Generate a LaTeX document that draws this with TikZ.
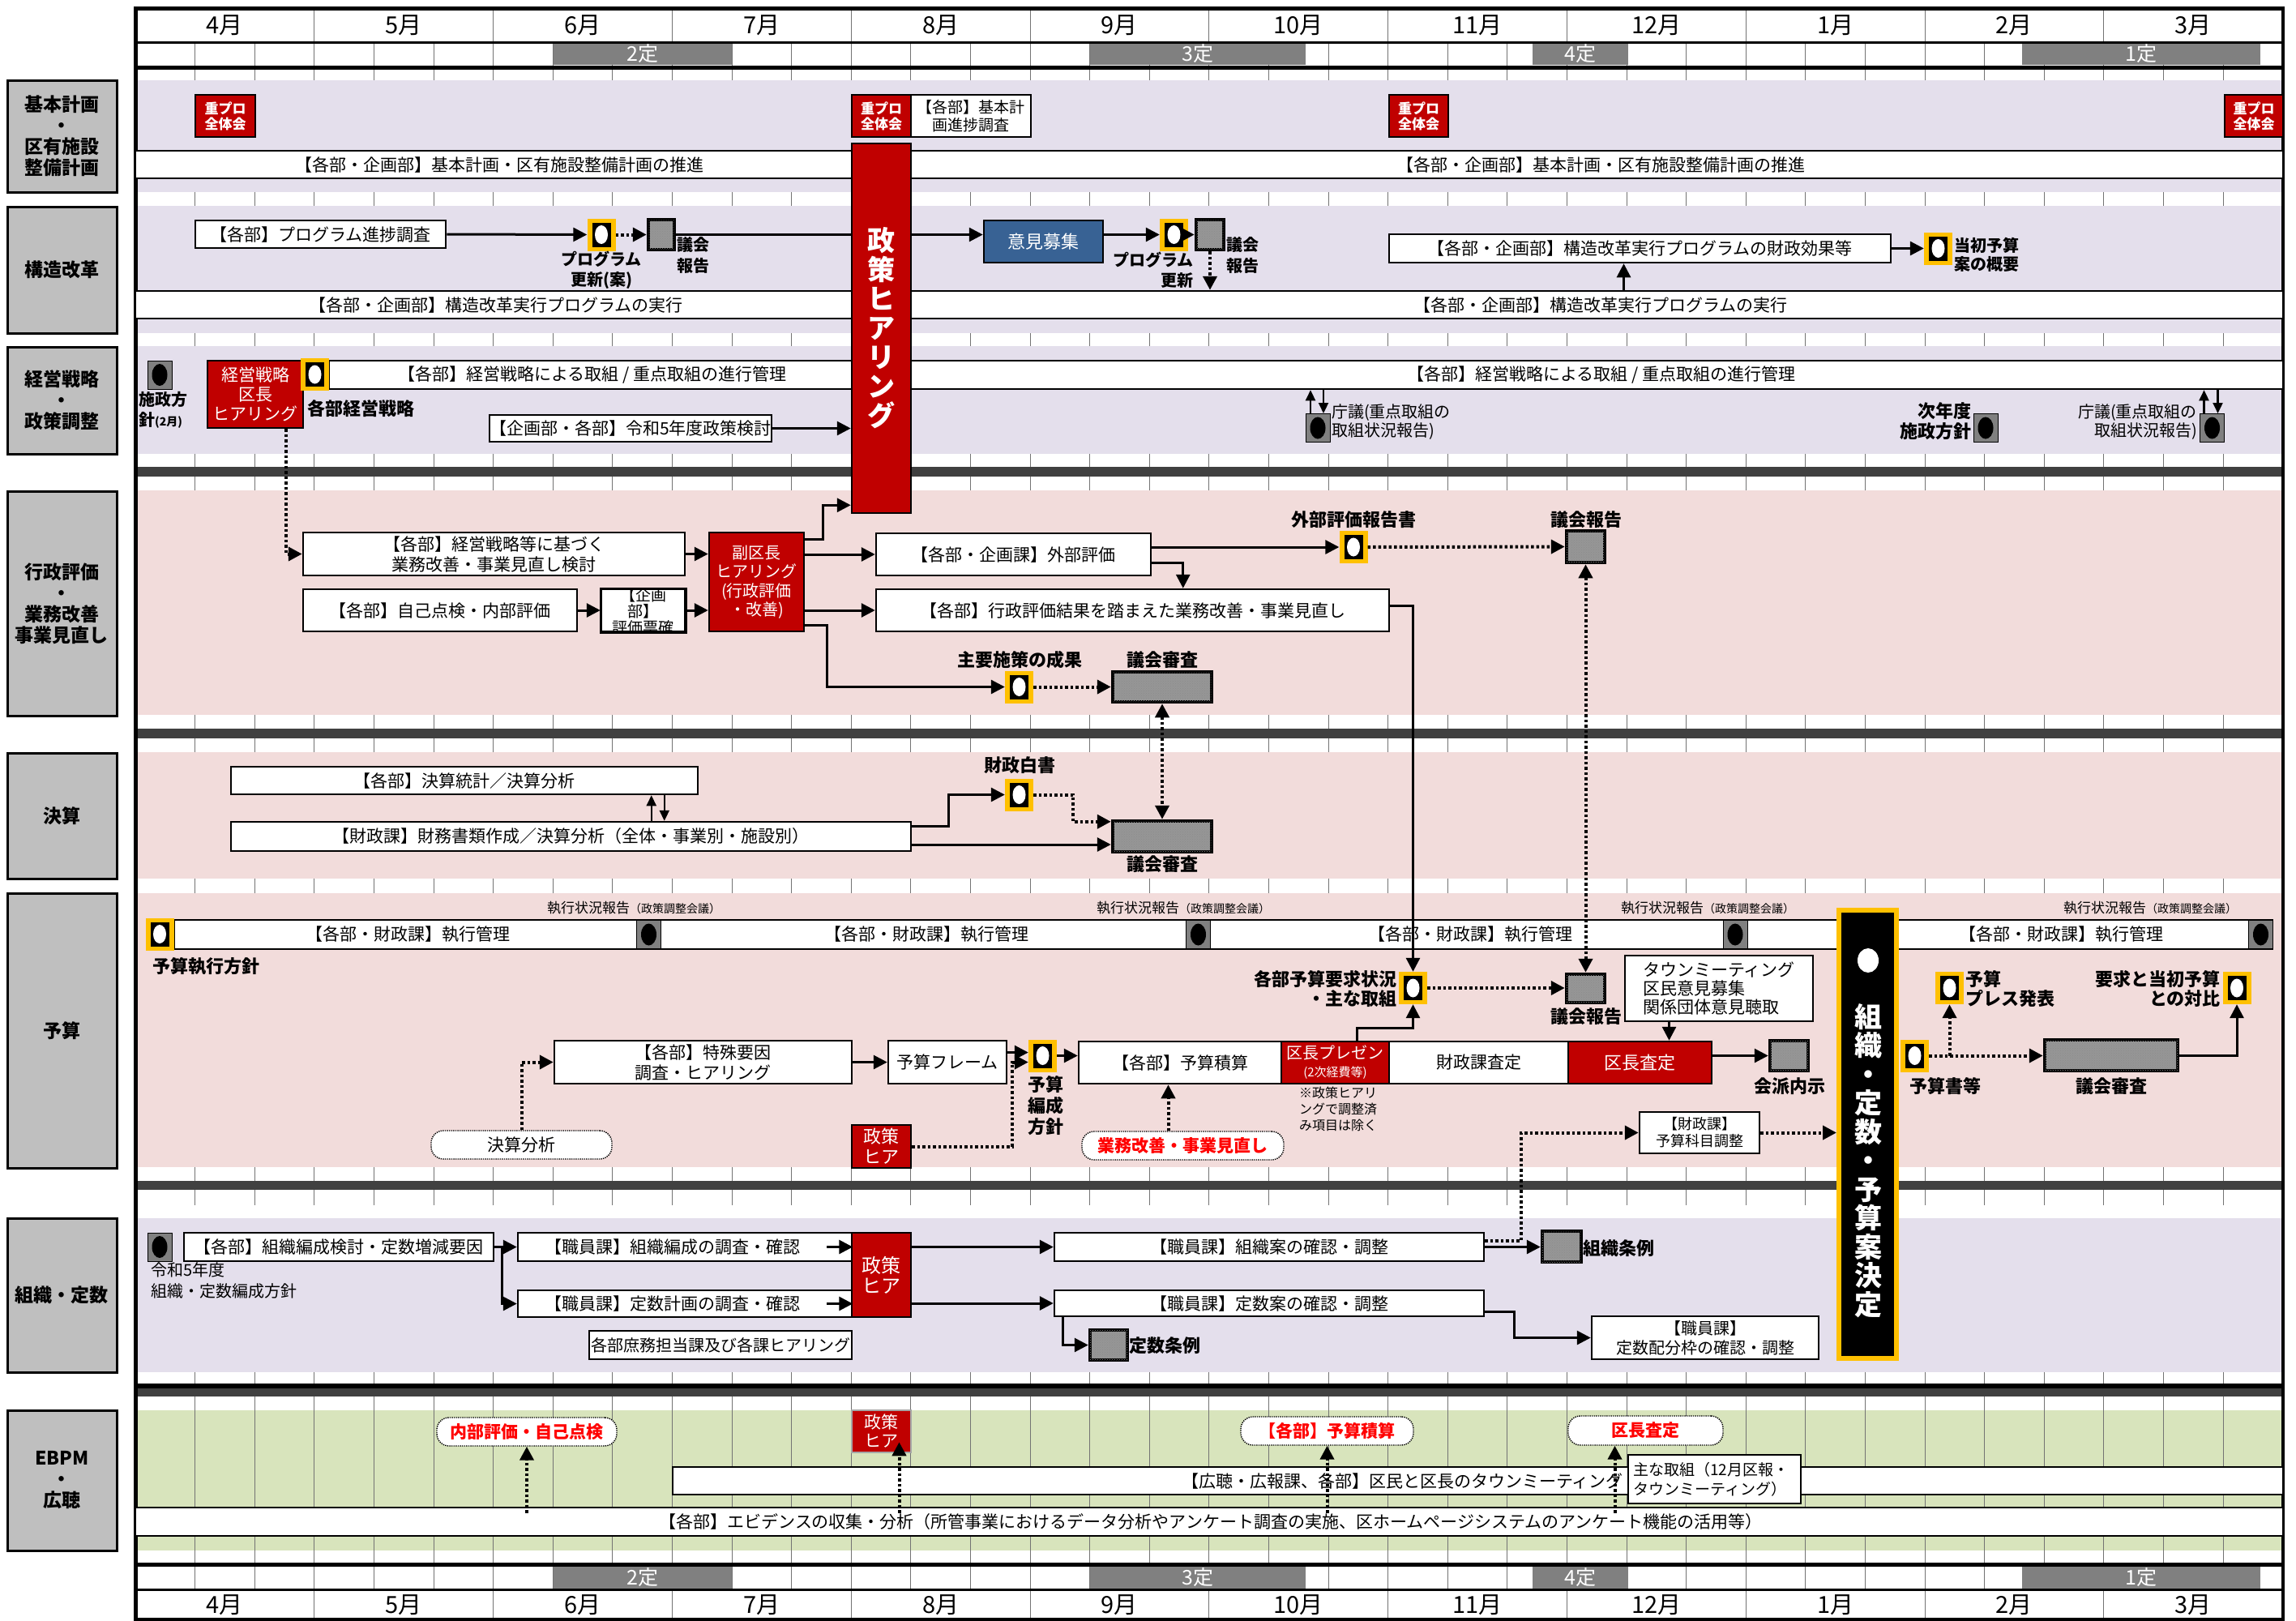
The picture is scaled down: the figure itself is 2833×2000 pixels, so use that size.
\documentclass[tikz,border=0pt]{standalone}
\usepackage{fontspec}
\setmainfont{Noto Sans CJK JP}
\usetikzlibrary{arrows.meta,shapes.geometric,patterns}
\definecolor{lav}{RGB}{228,223,236}
\definecolor{pnk}{RGB}{242,220,219}
\definecolor{grn}{RGB}{216,228,188}
\definecolor{rd}{RGB}{192,0,0}
\definecolor{blu}{RGB}{56,98,148}
\definecolor{yel}{RGB}{255,192,0}
\definecolor{lblc}{RGB}{191,191,191}
\definecolor{dk}{RGB}{64,64,64}
\definecolor{tei}{RGB}{128,128,128}
\definecolor{hatch}{RGB}{150,150,150}
\newcommand\fz[2]{\fontsize{#1pt}{#2pt}\selectfont}
\newcommand\mkbox[7][]{%
  \pgfmathsetmacro\bw{#5-#3}\pgfmathsetmacro\bh{#6-#4}%
  \pgfmathsetmacro\bcx{(#5+#3)/2}\pgfmathsetmacro\bcy{(#6+#4)/2}%
  \node[bx,minimum width=\bw pt,minimum height=\bh pt,#1] (#2) at (\bcx,\bcy) {#7};}
\newcommand\msY[3]{%
  \node[fill=yel,minimum width=35pt,minimum height=40pt,inner sep=0pt] (#1) at (#2,#3) {};
  \node[fill=black,minimum width=23pt,minimum height=30pt,inner sep=0pt] (#1-i) at (#2,#3) {};
  \node[fill=white,ellipse,minimum width=16pt,minimum height=23pt,inner sep=0pt] (#1-d) at (#2,#3) {};}
\newcommand\msG[3]{%
  \node[fill=tei,draw=black,line width=1pt,minimum width=30pt,minimum height=35pt,inner sep=0pt] (#1) at (#2,#3) {};
  \node[fill=black,ellipse,minimum width=19pt,minimum height=27pt,inner sep=0pt] (#1-d) at (#2,#3) {};}
\tikzset{
  bx/.style={draw=black,line width=2.5pt,fill=white,inner sep=0pt,align=center,font=\fz{21}{25}},
  rbx/.style={fill=rd,text=white},
  lblbox/.style={fill=lblc,line width=3pt,font=\bfseries\fz{23}{26}},
  hb/.style={fill=hatch,line width=4.5pt,postaction={pattern=crosshatch dots,pattern color=black!45}},
  rnd/.style={rounded corners=15pt,line width=1.4pt,dash pattern=on 1.4pt off 1.2pt,text=red,font=\bfseries\fz{21}{25}},
  teib/.style={fill=tei,draw=none,text=white,font=\fz{25}{25}},
  tk/.style={draw=black!55,line width=0.9pt},
  mon/.style={inner sep=0pt,font=\fz{29}{29}},
  btx/.style={inner sep=0pt,font=\fz{21}{25}},
  lb/.style={inner sep=0pt,font=\bfseries\fz{22}{25},align=center},
  lbs/.style={inner sep=0pt,font=\fz{20}{23}},
  sml/.style={inner sep=0pt,font=\fz{16}{18}},
  arr/.style={line width=3pt,-{Triangle[length=17pt,width=17pt]}},
  ln/.style={line width=3pt},
  dt/.style={line width=4pt,dash pattern=on 3.5pt off 3pt},
  darr/.style={dt,-{Triangle[length=17pt,width=17pt]}},
  ddarr/.style={dt,{Triangle[length=17pt,width=17pt]}-{Triangle[length=17pt,width=17pt]}},
  sarr/.style={line width=2.2pt,-{Triangle[length=13pt,width=12pt]}},
}
\begin{document}
\begin{tikzpicture}[x=1pt,y=-1pt]
\useasboundingbox (0,0) rectangle (2833,2000);
\fill[white] (0,0) rectangle (2833,2000);
% ---------- backgrounds
\fill[grn] (169,1740) rectangle (2815,1913);
\foreach \k in {1,...,35}{\draw[tk] ({167+73.6*\k},52) -- ({167+73.6*\k},1960);}
\foreach \k in {1,...,11}{\draw[tk] ({167+220.8*\k},10) -- ({167+220.8*\k},52);
  \draw[tk] ({167+220.8*\k},1960) -- ({167+220.8*\k},1998);}
\fill[lav] (169,99) rectangle (2815,237);
\fill[lav] (169,254) rectangle (2815,411);
\fill[lav] (169,427) rectangle (2815,560);
\fill[pnk] (169,605) rectangle (2815,882);
\fill[pnk] (169,928) rectangle (2815,1084);
\fill[pnk] (169,1102) rectangle (2815,1440);
\fill[white] (169,1487) rectangle (2815,1503);
\fill[lav] (169,1503) rectangle (2815,1693);
\fill[dk] (167,576) rectangle (2817,588);
\fill[dk] (167,899) rectangle (2817,911);
\fill[dk] (167,1457) rectangle (2817,1468);
\fill[black] (167,1707) rectangle (2817,1713);
\fill[dk] (167,1713) rectangle (2817,1723);
% ---------- header / footer
\mkbox[teib]{t2}{683}{53}{903}{80}{2定}
\mkbox[teib]{t3}{1345}{53}{1611}{80}{3定}
\mkbox[teib]{t4}{1891}{53}{2009}{80}{4定}
\mkbox[teib]{t1}{2495}{53}{2789}{80}{1定}
\mkbox[teib]{t2b}{683}{1933}{903}{1960}{2定}
\mkbox[teib]{t3b}{1345}{1933}{1611}{1960}{3定}
\mkbox[teib]{t4b}{1891}{1933}{2009}{1960}{4定}
\mkbox[teib]{t1b}{2495}{1933}{2789}{1960}{1定}
\foreach \i/\t in {0/4月,1/5月,2/6月,3/7月,4/8月,5/9月,6/10月,7/11月,8/12月,9/1月,10/2月,11/3月}{
  \node[mon] (mt\i) at ({167+220.8*(\i+0.5)},31) {\t};
  \node[mon] (mb\i) at ({167+220.8*(\i+0.5)},1980) {\t};}
\draw[line width=5pt] (165,10) -- (2819,10);
\draw[line width=3pt] (167,52) -- (2817,52);
\draw[line width=5pt] (167,83) -- (2817,83);
\draw[line width=5pt] (167,1930) -- (2817,1930);
\draw[line width=3pt] (167,1961) -- (2817,1961);
\draw[line width=4pt] (165,1998) -- (2819,1998);
\draw[line width=5pt] (167,8) -- (167,2000);
\draw[line width=4pt] (2817,8) -- (2817,2000);
% ---------- row labels
\mkbox[lblbox]{L1}{9}{99}{144}{237}{基本計画\\・\\区有施設\\整備計画}
\mkbox[lblbox]{L2}{9}{255}{144}{411}{構造改革}
\mkbox[lblbox]{L3}{9}{428}{144}{560}{経営戦略\\・\\政策調整}
\mkbox[lblbox]{L4}{9}{606}{144}{883}{行政評価\\・\\業務改善\\事業見直し}
\mkbox[lblbox]{L5}{9}{929}{144}{1084}{決算}
\mkbox[lblbox]{L6}{9}{1102}{144}{1441}{予算}
\mkbox[lblbox]{L7}{9}{1503}{144}{1693}{組織・定数}
\mkbox[lblbox]{L8}{9}{1740}{144}{1913}{EBPM\\・\\広聴}
% ---------- long white bars
\mkbox{wb1}{167}{186}{2817}{220}{}
\mkbox{wb2}{167}{359}{2817}{393}{}
\mkbox{wb3}{406}{445}{2817}{480}{}
\mkbox{exb}{215}{1135}{2804}{1171}{}
\mkbox{tbar}{830}{1810}{2817}{1844}{}
\mkbox{evid}{167}{1860}{2817}{1895}{}
\node[btx] (wb1a) at (616,203) {【各部・企画部】基本計画・区有施設整備計画の推進};
\node[btx] (wb1b) at (1975,203) {【各部・企画部】基本計画・区有施設整備計画の推進};
\node[btx] (wb2a) at (612,376) {【各部・企画部】構造改革実行プログラムの実行};
\node[btx] (wb2b) at (1975,376) {【各部・企画部】構造改革実行プログラムの実行};
\node[btx] (wb3a) at (731,462.5) {【各部】経営戦略による取組\ /\ 重点取組の進行管理};
\node[btx] (wb3b) at (1976,462.5) {【各部】経営戦略による取組\ /\ 重点取組の進行管理};
\node[btx] (ex1) at (503,1153) {【各部・財政課】執行管理};
\node[btx] (ex2) at (1143,1153) {【各部・財政課】執行管理};
\node[btx] (ex3) at (1814,1153) {【各部・財政課】執行管理};
\node[btx] (ex4) at (2543,1153) {【各部・財政課】執行管理};
\node[btx,anchor=east] (tbart) at (2003,1827) {【広聴・広報課、各部】区民と区長のタウンミーティング};
\node[btx] (evidt) at (1494,1877.5) {【各部】エビデンスの収集・分析（所管事業におけるデータ分析やアンケート調査の実施、区ホームページシステムのアンケート機能の活用等）};
% ---------- 基本計画
\mkbox[rbx,font=\bfseries\fz{17}{19}]{jp1}{241}{117}{315}{169}{重プロ\\全体会}
\mkbox[rbx,font=\bfseries\fz{17}{19}]{jp2}{1051}{117}{1124}{169}{重プロ\\全体会}
\mkbox[font=\fz{19}{22}]{jpt}{1124}{117}{1272}{169}{【各部】基本計\\画進捗調査}
\mkbox[rbx,font=\bfseries\fz{17}{19}]{jp3}{1714}{117}{1787}{169}{重プロ\\全体会}
\mkbox[rbx,font=\bfseries\fz{17}{19}]{jp4}{2745}{117}{2817}{169}{重プロ\\全体会}
% ---------- 政策ヒアリング
\mkbox[rbx,font=\bfseries\fz{34}{36}]{seiH}{1051}{177}{1124}{633}{政\\策\\ヒ\\ア\\リ\\ン\\グ}
% ---------- 構造改革
\mkbox{prog}{241}{272}{550}{306}{【各部】プログラム進捗調査}
\msY{ms1}{742}{289.5}
\mkbox[hb]{g1}{800}{271}{832}{308}{}
\node[lb,font=\bfseries\fz{20}{25}] (ms1l) at (742,333) {プログラム\\更新(案)};
\node[lb,font=\bfseries\fz{20}{26},anchor=west,align=left] (g1l) at (835,315) {議会\\報告};
\mkbox[fill=blu,text=white,font=\fz{22}{25}]{iken}{1214}{272}{1361}{324}{意見募集}
\msY{ms2}{1448.5}{289.5}
\mkbox[hb]{g2}{1476}{271}{1510}{308}{}
\node[lb,font=\bfseries\fz{20}{25},anchor=east,align=right] (ms2l) at (1473,333) {プログラム\\更新};
\node[lb,font=\bfseries\fz{20}{26},anchor=west,align=left] (g2l) at (1513,315) {議会\\報告};
\mkbox{zai}{1714}{289}{2333}{324}{【各部・企画部】構造改革実行プログラムの財政効果等}
\msY{ms3}{2391.5}{306.5}
\node[lb,font=\bfseries\fz{20}{23},anchor=west,align=left] (ms3l) at (2411,314) {当初予算\\案の概要};
% ---------- 経営戦略
\msG{sh}{197}{462.5}
\node[lb,font=\bfseries\fz{20}{25},anchor=north west,align=left] (shl) at (171,483) {施政方\\針{\fz{14}{14}(2月)}};
\mkbox[rbx,font=\fz{21}{24}]{kh}{256}{445}{374}{528}{経営戦略\\区長\\ヒアリング}
\msY{ms4}{388.5}{462}
\node[lb,anchor=west] (khl) at (379,504) {各部経営戦略};
\mkbox{sei5}{609}{512}{947}{545}{【企画部・各部】令和5年度政策検討}
\msG{cg1}{1626}{528}
\node[lbs,anchor=west,align=left] (cg1l) at (1643,521) {庁議(重点取組の\\取組状況報告)};
\msG{jn}{2450}{528}
\node[lb,anchor=east,align=right] (jnl) at (2433,520) {次年度\\施政方針};
\msG{cg2}{2729.5}{528}
\node[lbs,anchor=east,align=right] (cg2l) at (2711,521) {庁議(重点取組の\\取組状況報告)};
% ---------- 行政評価
\mkbox{keiei}{374}{657}{845}{710}{【各部】経営戦略等に基づく\\業務改善・事業見直し検討}
\mkbox{jiko}{374}{727}{712}{779}{【各部】自己点検・内部評価}
\mkbox{kikaku}{742}{727}{845}{779}{}
\begin{scope}
\clip (742,727) rectangle (845,779);
\node[inner sep=0pt,align=center,font=\fz{19}{20}] (kikakut) at (793.5,754) {【企画\\部】\\評価票確};
\end{scope}
\draw[line width=2.5pt] (kikaku.north west) rectangle (kikaku.south east);
\mkbox[rbx,font=\fz{20}{23.5}]{fuku}{875}{657}{992}{779}{副区長\\ヒアリング\\(行政評価\\・改善)}
\mkbox{gaibu}{1081}{658}{1420}{710}{【各部・企画課】外部評価}
\mkbox{kekka}{1081}{727}{1714}{779}{【各部】行政評価結果を踏まえた業務改善・事業見直し}
\msY{ms5}{1670}{675}
\node[lb] (ms5l) at (1670,641) {外部評価報告書};
\mkbox[hb]{g3}{1933}{655}{1980}{694}{}
\node[lb] (g3l) at (1957,641) {議会報告};
\msY{ms6}{1257.5}{847.5}
\node[lb] (ms6l) at (1258,814) {主要施策の成果};
\mkbox[hb]{g4}{1373}{829}{1495}{866}{}
\node[lb] (g4l) at (1434,814) {議会審査};
% ---------- 決算
\mkbox{ks1}{285}{946}{861}{980}{【各部】決算統計／決算分析}
\mkbox{ks2}{285}{1014}{1124}{1050}{【財政課】財務書類作成／決算分析（全体・事業別・施設別）}
\msY{ms8}{1257.5}{980.5}
\node[lb] (ms8l) at (1258,944) {財政白書};
\mkbox[hb]{g6}{1373}{1013}{1495}{1051}{}
\node[lb] (g6l) at (1434,1066) {議会審査};
% ---------- 予算
\node[inner sep=0pt] (jk1) at (782,1120) {\fz{17}{18}執行状況報告\fz{14}{18}（政策調整会議）};
\node[inner sep=0pt] (jk2) at (1460,1120) {\fz{17}{18}執行状況報告\fz{14}{18}（政策調整会議）};
\node[inner sep=0pt] (jk3) at (2107,1120) {\fz{17}{18}執行状況報告\fz{14}{18}（政策調整会議）};
\node[inner sep=0pt] (jk4) at (2653,1120) {\fz{17}{18}執行状況報告\fz{14}{18}（政策調整会議）};
\msY{ms9}{197}{1152.5}
\msG{gm1}{800.5}{1153}
\msG{gm2}{1478.5}{1153}
\msG{gm3}{2141}{1153}
\msG{gm4}{2789.5}{1153}
\node[lb,anchor=west] (ms9l) at (188,1192) {予算執行方針};
\mkbox[rnd,text=black,font=\fz{21}{25}]{kb}{532}{1395}{755}{1430}{決算分析}
\mkbox{tok}{684}{1284}{1051}{1337}{【各部】特殊要因\\調査・ヒアリング}
\mkbox{fr}{1096}{1284}{1242}{1337}{予算フレーム}
\msY{ms10}{1286.5}{1302.5}
\mkbox[rbx,font=\fz{22}{25}]{sh2}{1051}{1388}{1124}{1441}{政策\\ヒア}
\node[lb,font=\bfseries\fz{22}{26}] (ms10l) at (1290,1364) {予算\\編成\\方針};
\mkbox{sek}{1331}{1285}{1581}{1337}{【各部】予算積算}
\mkbox[rbx,font=\fz{20}{22}]{pre}{1581}{1285}{1714}{1337}{区長プレゼン\\{\fz{15}{16}(2次経費等)}}
\mkbox{sat}{1714}{1285}{1935}{1337}{財政課査定}
\mkbox[rbx,font=\fz{22}{25}]{kc}{1935}{1285}{2112}{1337}{区長査定}
\node[sml,anchor=north west,align=left,font=\fz{16}{20}] (note) at (1603,1341) {※政策ヒアリ\\ングで調整済\\み項目は除く};
\mkbox[rnd]{gy}{1335}{1396}{1584}{1431}{業務改善・事業見直し}
\msY{ms7}{1743.5}{1219}
\node[lb,anchor=east,align=right,font=\bfseries\fz{22}{24}] (ms7l) at (1724,1220) {各部予算要求状況\\・主な取組};
\mkbox[hb]{g5}{1933}{1202}{1980}{1237}{}
\node[lb] (g5l) at (1957,1254) {議会報告};
\mkbox[font=\fz{21}{23}]{town}{2005}{1179}{2237}{1260}{}
\node[inner sep=0pt,anchor=west,align=left,font=\fz{21}{23}] (townt) at (2027,1220) {タウンミーティング\\区民意見募集\\関係団体意見聴取};
\mkbox[hb]{g7}{2184}{1284}{2231}{1321}{}
\node[lb] (g7l) at (2208,1340) {会派内示};
\mkbox[font=\fz{18}{21}]{kam}{2023}{1372}{2171}{1423}{【財政課】\\予算科目調整}
\mkbox[fill=black,draw=yel,line width=6pt]{ket}{2269}{1123}{2340}{1676}{}
\node[fill=white,ellipse,minimum width=26pt,minimum height=30pt,inner sep=0pt] (ket-d) at (2305,1185) {};
\node[inner sep=0pt,align=center,text=white,font=\bfseries\fz{34}{35.5}] (ket-t) at (2305,1432) {組\\織\\・\\定\\数\\・\\予\\算\\案\\決\\定};
\msY{ms11}{2362.5}{1302.5}
\node[lb] (ms11l) at (2400,1340) {予算書等};
\msY{ms12}{2405.5}{1219}
\node[lb,anchor=west,align=left,font=\bfseries\fz{22}{24}] (ms12l) at (2425,1220) {予算\\プレス発表};
\mkbox[hb]{g8}{2523}{1283}{2687}{1321}{}
\node[lb] (g8l) at (2605,1340) {議会審査};
\msY{ms13}{2760}{1219}
\node[lb,anchor=east,align=right,font=\bfseries\fz{22}{24}] (ms13l) at (2740,1220) {要求と当初予算\\との対比};
% ---------- 組織・定数
\msG{gm5}{197}{1538.5}
\node[lbs,anchor=north west,align=left,font=\fz{20}{26}] (gm5l) at (186,1557) {令和5年度\\組織・定数編成方針};
\mkbox{so1}{227}{1521}{609}{1556}{【各部】組織編成検討・定数増減要因}
\mkbox{sk1}{639}{1521}{1051}{1556}{【職員課】組織編成の調査・確認\hspace{30pt}}
\mkbox{sk2}{639}{1592}{1051}{1625}{【職員課】定数計画の調査・確認\hspace{30pt}}
\mkbox[rbx,font=\fz{24}{25}]{sh3}{1051}{1521}{1124}{1625}{政策\\ヒア}
\mkbox[font=\fz{20}{24}]{hear}{727}{1642}{1051}{1677}{各部庶務担当課及び各課ヒアリング}
\mkbox{soan}{1301}{1521}{1831}{1556}{【職員課】組織案の確認・調整}
\mkbox{teian}{1301}{1592}{1831}{1624}{【職員課】定数案の確認・調整}
\mkbox[hb]{g9}{1345}{1641}{1391}{1678}{}
\node[lb,anchor=west] (g9l) at (1393,1660) {定数条例};
\mkbox[hb]{g10}{1903}{1519}{1951}{1557}{}
\node[lb,anchor=west] (g10l) at (1953,1540) {組織条例};
\mkbox[font=\fz{20}{24}]{hai}{1964}{1624}{2244}{1677}{【職員課】\\定数配分枠の確認・調整}
% ---------- EBPM
\mkbox[rnd]{naibu}{539}{1749}{761}{1784}{内部評価・自己点検}
\mkbox[rbx,draw=black!35,font=\fz{21}{23}]{sh4}{1051}{1740}{1124}{1792}{政策\\ヒア}
\mkbox[rnd]{ebs}{1531}{1748}{1744}{1783}{【各部】予算積算}
\mkbox[rnd]{ebk}{1935}{1747}{2126}{1783}{区長査定}
\mkbox[font=\fz{19}{24}]{omona}{2009}{1795}{2222}{1855}{}
\node[inner sep=0pt,anchor=west,align=left,font=\fz{19}{24}] (omonat) at (2015,1825) {主な取組（12月区報・\\タウンミーティング）};
% ================= connectors
% 構造改革
\draw[arr] (prog.east) -- (ms1.west);
\draw[darr] (ms1.east) -- (g1.west);
\draw[ln] (g1.east) -- (g1.east -| seiH.west);
\draw[arr] (g1.east -| seiH.east) -- (g1.east -| iken.west);
\draw[arr] (g1.east -| iken.east) -- (ms2.west);
\draw[darr] (ms2.east) -- (g2.west);
\draw[darr] (g2.south) -- (g2.south |- wb2.north);
\draw[arr] ([xshift=-20pt]zai.south |- wb2.north) -- ([xshift=-20pt]zai.south);
\draw[arr] (zai.east) -- (ms3.west);
% 経営戦略
\draw[arr] (sei5.east) -- (sei5.east -| seiH.west);
\draw[sarr] ([xshift=-9pt]cg1.north) -- ([xshift=-9pt]cg1.north |- wb3.south);
\draw[sarr] ([xshift=7pt]cg1.north |- wb3.south) -- ([xshift=7pt]cg1.north);
\draw[sarr] ([xshift=-10pt]cg2.north) -- ([xshift=-10pt]cg2.north |- wb3.south);
\draw[sarr] ([xshift=7pt]cg2.north |- wb3.south) -- ([xshift=7pt]cg2.north);
\draw[darr] ([xshift=-22pt]kh.south east) |- (keiei.west);
% 行政評価
\draw[arr] (jiko.east) -- (kikaku.west);
\draw[arr] (keiei.east) -- (keiei.east -| fuku.west);
\draw[arr] (kikaku.east) -- (kikaku.east -| fuku.west);
\draw[arr] ([yshift=-10pt]fuku.north east) -- ++(22,0) |- ([yshift=11pt]seiH.south west);
\draw[arr] (fuku.east |- gaibu.west) -- (gaibu.west);
\draw[arr] (fuku.east |- kekka.west) -- (kekka.west);
\draw[arr] (gaibu.east |- ms5.west) -- (ms5.west);
\draw[arr] ([yshift=-10pt]gaibu.east) -| ([xshift=380pt]kekka.north west);
\draw[darr] (ms5.east) -- (g3.west);
\draw[arr] ([yshift=9pt]fuku.south east) -- ++(27,0) |- (ms6.west);
\draw[darr] (ms6.east) -- (ms6.east -| g4.west);
\draw[arr] ([yshift=6pt]kekka.east) -| (ms7.north);
\draw[ddarr] (g3.south) -- (g3.south |- g5.north);
\draw[ddarr] (g4.south) -- (g4.south |- g6.north);
% 決算
\draw[sarr] ([xshift=520pt]ks1.south west |- ks2.north) -- ([xshift=520pt]ks1.south west);
\draw[sarr] ([xshift=536pt]ks1.south west) -- ([xshift=536pt]ks1.south west |- ks2.north);
\draw[arr] ([yshift=-7pt]ks2.north east) -- ++(45,0) |- (ms8.west);
\draw[darr] (ms8.east) -- ++(49,0) |- ([yshift=-3pt]g6.north west);
\draw[arr] ([yshift=-10pt]ks2.east) -- ([yshift=-10pt]ks2.east -| g6.west);
% 予算
\draw[darr] (kb.north) |- (tok.west);
\draw[arr] (tok.east) -- (fr.west);
\draw[arr] ([yshift=12pt]fr.east) -- ([yshift=12pt]fr.east -| ms10.west);
\draw[darr] (sh2.east) -| ([xshift=-20pt,yshift=-8pt]ms10.west) -- ([yshift=-8pt]ms10.west);
\draw[arr] (ms10.east) -- (ms10.east -| sek.west);
\draw[arr] ([xshift=27pt]pre.north) -- ++(0,-15) -| (ms7.south);
\draw[darr] ([xshift=-18pt]gy.north) -- ([xshift=-18pt]gy.north |- sek.south);
\draw[darr] (ms7.east) -- (ms7.east -| g5.west);
\draw[arr] ([xshift=36pt]kc.north |- town.south) -- ([xshift=36pt]kc.north);
\draw[arr] (kc.east |- g7.west) -- (g7.west);
\draw[darr] ([yshift=8pt]soan.east) -- ++(45,0) |- (kam.west);
\draw[darr] (kam.east) -- (kam.east -| ket.west);
\draw[darr] (ms11.east) -- (ms11.east -| g8.west);
\draw[darr] (ms12.south |- ms11.east) -- (ms12.south);
\draw[arr] (g8.east) -| (ms13.south);
% 組織・定数
\draw[arr] (so1.east) -- (sk1.west);
\draw[arr] ([xshift=9pt]so1.east) |- (sk2.west);
\draw[arr] ([xshift=-32pt]sk1.east) -- (sk1.east);
\draw[arr] ([xshift=-32pt]sk2.east) -- (sk2.east);
\draw[arr] (sh3.east |- soan.west) -- (soan.west);
\draw[arr] (sh3.east |- teian.west) -- (teian.west);
\draw[arr] ([xshift=12pt]teian.south west) |- (g9.west);
\draw[arr] ([yshift=-10pt]teian.east) -- ++(36,0) |- (hai.west);
\draw[arr] (soan.east) -- (soan.east -| g10.west);
% EBPM
\draw[darr] ([yshift=-8pt]naibu.south |- evid.north) -- (naibu.south);
\draw[darr] ([xshift=22pt,yshift=-8pt]sh4.south |- evid.north) -- ([xshift=22pt,yshift=14pt]sh4.south);
\draw[darr] ([yshift=-8pt]ebs.south |- evid.north) -- (ebs.south);
\draw[darr] ([xshift=-38pt,yshift=-8pt]ebk.south |- evid.north) -- ([xshift=-38pt]ebk.south);
\end{tikzpicture}
\end{document}
